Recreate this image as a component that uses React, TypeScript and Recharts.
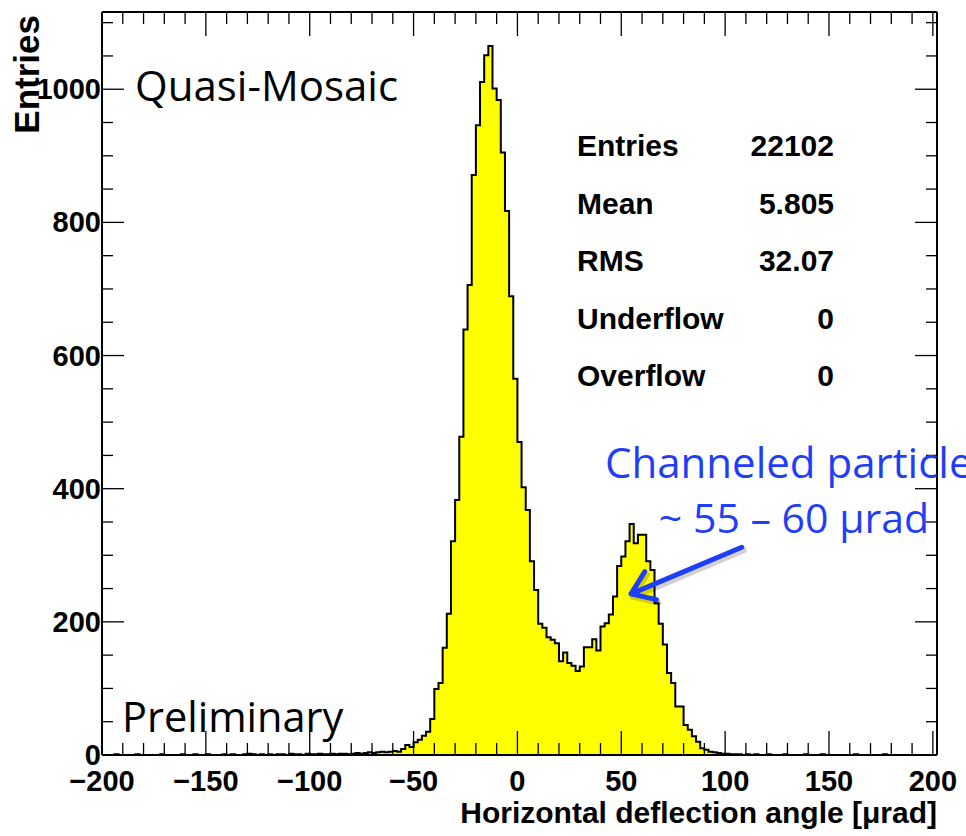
import { Area, ComposedChart, ReferenceLine, XAxis, YAxis } from 'recharts'

// histogram: 2 µrad bins, first low edge at -200
const BIN_WIDTH = 2
const FIRST_EDGE = -200

// bins -200 .. -58
const countsLeftTail = [
  0, 0, 0, 1, 0, 0, 0, 0, 1, 0, 0, 0, 0, 0, 1, 0, 0, 0, 0, 1,
  0, 0, 1, 0, 0, 1, 0, 0, 0, 1, 0, 1, 0, 0, 1, 2, 1, 0, 1, 0,
  1, 0, 1, 1, 0, 2, 1, 1, 0, 2, 1, 1, 2, 1, 1, 2, 1, 2, 2, 1,
  2, 3, 2, 3, 4, 3, 4, 5, 4, 5, 6, 5,
]

// bins -56 .. 98
const countsPeak = [
  9, 15, 12, 19, 23, 29, 35, 54, 99, 108, 161, 212, 321, 383, 478, 639, 706, 871, 946, 1011,
  1051, 1065, 1001, 984, 905, 817, 689, 565, 470, 402, 368, 291, 248, 197, 191, 177, 173, 168, 141, 154,
  138, 134, 126, 133, 162, 162, 174, 157, 193, 198, 211, 238, 284, 298, 321, 347, 318, 331, 331, 291,
  278, 228, 197, 166, 123, 108, 73, 73, 45, 38, 28, 20, 10, 8, 5, 4, 3, 2,
]

// bins 100 .. 200
const countsRightTail = [
  2, 1, 1, 1, 0, 1, 0, 1, 0, 0,
  1, 0, 0, 0, 1, 0, 0, 0, 0, 1,
  0, 0, 0, 1, 0, 0, 0, 0, 0, 0,
  0, 1, 0, 0, 0, 0, 0, 0, 1, 0,
  0, 0, 0, 0, 0, 0, 0, 0, 0, 0, 0,
]

const X_DOMAIN: [number, number] = [-200, 202]
const Y_DOMAIN: [number, number] = [0, 1116]
const X_LABELS = [-200, -150, -100, -50, 0, 50, 100, 150, 200]
const Y_LABELS = [0, 200, 400, 600, 800, 1000]

const STAT_NAMES = ['Entries', 'Mean', 'RMS', 'Underflow', 'Overflow']
const STAT_VALUES = ['22102', '5.805', '32.07', '0', '0']

const counts = [...countsLeftTail, ...countsPeak, ...countsRightTail]
const histData = counts.map((n, i) => ({ x: FIRST_EDGE + i * BIN_WIDTH, n }))
histData.push({ x: FIRST_EDGE + counts.length * BIN_WIDTH, n: counts[counts.length - 1] })

const xTicks: number[] = []
for (let v = -200; v <= 200; v += 10) xTicks.push(v)
const yTicks: number[] = []
for (let v = 0; v <= 1100; v += 50) yTicks.push(v)

const AXIS_FONT = '"Liberation Sans", Arial, Helvetica, sans-serif'
const NOTE_FONT = '"Open Sans", "Noto Sans", sans-serif'
const BLUE = '#1f3ef8'
const TICK_W = 1.3

const fmt = (v: number) => (v < 0 ? `\u2212${-v}` : String(v))

function BottomTick({ x, y, payload }: any) {
  const major = X_LABELS.includes(payload.value)
  return (
    <g>
      <line x1={x} x2={x} y1={y} y2={y - (major ? 24 : 12)} stroke="#000" strokeWidth={TICK_W} />
      {major && (
        <text x={x} y={y + 36} textAnchor="middle" fontFamily={AXIS_FONT} fontWeight="bold" fontSize={29} fill="#000">
          {fmt(payload.value)}
        </text>
      )}
    </g>
  )
}

function TopTick({ x, y, payload }: any) {
  const major = X_LABELS.includes(payload.value)
  return <line x1={x} x2={x} y1={y} y2={y + (major ? 24 : 12)} stroke="#000" strokeWidth={TICK_W} />
}

function LeftTick({ x, y, payload }: any) {
  const major = Y_LABELS.includes(payload.value)
  return (
    <g>
      <line x1={x} x2={x + (major ? 22 : 11)} y1={y} y2={y} stroke="#000" strokeWidth={TICK_W} />
      {major && (
        <text x={x - 1} y={y + 10} textAnchor="end" fontFamily={AXIS_FONT} fontWeight="bold" fontSize={29} fill="#000">
          {payload.value}
        </text>
      )}
    </g>
  )
}

function RightTick({ x, y, payload }: any) {
  const major = payload.value % 200 === 0
  return <line x1={x} x2={x - (major ? 22 : 11)} y1={y} y2={y} stroke="#000" strokeWidth={TICK_W} />
}

function Arrow({ x1, y1, x2, y2 }: any) {
  const ang = Math.atan2(y1 - y2, x1 - x2)
  const arm = 26
  const spread = 0.62
  const a1 = { x: x2 + arm * Math.cos(ang + spread), y: y2 + arm * Math.sin(ang + spread) }
  const a2 = { x: x2 + arm * Math.cos(ang - spread), y: y2 + arm * Math.sin(ang - spread) }
  const d = `M${x1},${y1} L${x2},${y2} M${a1.x},${a1.y} L${x2},${y2} L${a2.x},${a2.y}`
  return (
    <g>
      <path d={d} transform="translate(2,3)" stroke="#000" strokeOpacity={0.18} strokeWidth={6} fill="none" strokeLinecap="round" strokeLinejoin="round" />
      <path d={d} stroke={BLUE} strokeWidth={5} fill="none" strokeLinecap="round" strokeLinejoin="round" />
    </g>
  )
}

export default function App() {
  return (
    <div style={{ position: 'absolute', left: 0, top: 0, width: 966, height: 836, background: '#fff', overflow: 'hidden' }}>
      <ComposedChart width={966} height={836} data={histData} margin={{ top: 11, right: 28, bottom: 80, left: 101 }}>
        <XAxis
          xAxisId="b"
          type="number"
          dataKey="x"
          domain={X_DOMAIN}
          allowDataOverflow
          ticks={xTicks}
          interval={0}
          height={1}
          tickSize={0}
          tickMargin={0}
          tickLine={false}
          axisLine={{ stroke: '#000', strokeWidth: 2 }}
          tick={<BottomTick />}
        />
        <XAxis
          xAxisId="t"
          orientation="top"
          type="number"
          dataKey="x"
          domain={X_DOMAIN}
          allowDataOverflow
          ticks={xTicks}
          interval={0}
          height={1}
          tickSize={0}
          tickMargin={0}
          tickLine={false}
          axisLine={{ stroke: '#000', strokeWidth: 2 }}
          tick={<TopTick />}
        />
        <YAxis
          yAxisId="l"
          type="number"
          domain={Y_DOMAIN}
          allowDataOverflow
          ticks={yTicks}
          interval={0}
          width={1}
          tickSize={0}
          tickMargin={0}
          tickLine={false}
          axisLine={{ stroke: '#000', strokeWidth: 2 }}
          tick={<LeftTick />}
        />
        <YAxis
          yAxisId="r"
          orientation="right"
          type="number"
          domain={Y_DOMAIN}
          allowDataOverflow
          ticks={yTicks}
          interval={0}
          width={1}
          tickSize={0}
          tickMargin={0}
          tickLine={false}
          axisLine={{ stroke: '#000', strokeWidth: 2 }}
          tick={<RightTick />}
        />
        <Area
          xAxisId="b"
          yAxisId="l"
          type="stepAfter"
          dataKey="n"
          stroke="#000"
          strokeWidth={2}
          fill="#ffff00"
          fillOpacity={1}
          dot={false}
          activeDot={false}
          isAnimationActive={false}
        />
        <ReferenceLine
          xAxisId="b"
          yAxisId="l"
          segment={[{ x: 108, y: 312 }, { x: 54.7, y: 242 }]}
          shape={(p: any) => <Arrow {...p} />}
        />
      </ComposedChart>
      <svg width={966} height={836} style={{ position: 'absolute', left: 0, top: 0, pointerEvents: 'none' }}>
        <text x={937} y={823} textAnchor="end" fontFamily={AXIS_FONT} fontWeight="bold" fontSize={30} fill="#000">
          Horizontal deflection angle [μrad]
        </text>
        <text transform="translate(39,15) rotate(-90)" textAnchor="end" fontFamily={AXIS_FONT} fontWeight="bold" fontSize={35} fill="#000">
          Entries
        </text>
        {STAT_NAMES.map((name, i) => (
          <g key={name} fontFamily={AXIS_FONT} fontWeight="bold" fontSize={30} fill="#000">
            <text x={577} y={156 + i * 57.5}>{name}</text>
            <text x={834} y={156 + i * 57.5} textAnchor="end">{STAT_VALUES[i]}</text>
          </g>
        ))}
        <text x={135} y={101} fontFamily={NOTE_FONT} fontSize={42} fill="#000">Quasi-Mosaic</text>
        <text x={122} y={732} fontFamily={NOTE_FONT} fontSize={41.5} fill="#000">Preliminary</text>
        <text x={605} y={478} fontFamily={NOTE_FONT} fontSize={42} fill={BLUE}>Channeled particle</text>
        <text x={794} y={533} textAnchor="middle" fontFamily={NOTE_FONT} fontSize={41} fill={BLUE}>~ 55 – 60 μrad</text>
      </svg>
    </div>
  )
}
